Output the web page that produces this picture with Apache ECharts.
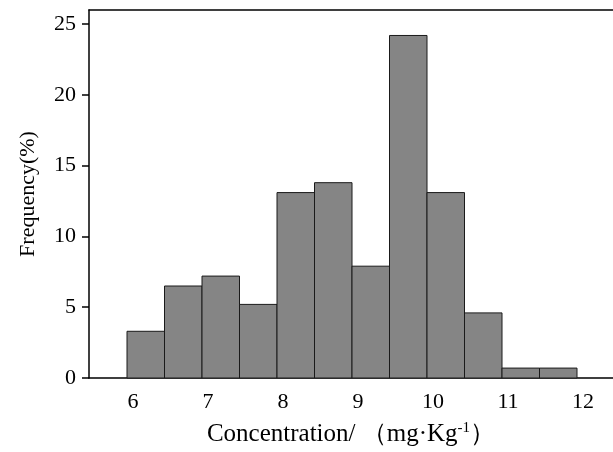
<!DOCTYPE html>
<html>
<head>
<meta charset="utf-8">
<script src="https://cdn.jsdelivr.net/npm/echarts@6/dist/echarts.min.js"></script>
<style>
html,body{margin:0;padding:0;background:#fff;}
#chart{width:613px;height:452px;}
</style>
</head>
<body>
<div id="chart"></div>
<script>
// Histogram bins (lower edge, upper edge) in mg/Kg and frequency in %
const binLower = [5.92, 6.42, 6.92, 7.42, 7.92, 8.42, 8.92, 9.42, 9.92, 10.42, 10.92, 11.42];
const binUpper = [6.42, 6.92, 7.42, 7.92, 8.42, 8.92, 9.42, 9.92, 10.42, 10.92, 11.42, 11.92];
const frequency = [3.3, 6.5, 7.2, 5.2, 13.1, 13.8, 7.9, 24.2, 13.1, 4.6, 0.7, 0.7];
const xTickValues = [6, 7, 8, 9, 10, 11, 12];
const yTickValues = [0, 5, 10, 15, 20, 25];

const data = binLower.map((lo, i) => [lo, binUpper[i], frequency[i]]);
const font = "'Times New Roman', 'Liberation Serif', serif";

const chart = echarts.init(document.getElementById('chart'), null, {renderer: 'canvas'});
chart.setOption({
  backgroundColor: '#ffffff',
  animation: false,
  grid: {left: 89, right: 0, top: 10, bottom: 70, containLabel: false},
  xAxis: [{
    type: 'value',
    min: 5.4133,
    max: 12.4,
    position: 'bottom',
    axisLine: {show: true, lineStyle: {color: '#000', width: 1.5}},
    axisTick: {show: false},
    splitLine: {show: false},
    axisLabel: {
      customValues: xTickValues,
      color: '#000', fontFamily: font, fontSize: 22, margin: 13
    },
    name: '{t|Concentration/ （mg·Kg}{s|-1}{t|）}',
    nameLocation: 'middle',
    nameGap: 43,
    nameTextStyle: {
      rich: {
        t: {fontFamily: font, fontSize: 25, color: '#000'},
        s: {fontFamily: font, fontSize: 15, color: '#000', verticalAlign: 'top', padding: [0, 0, 12, 0]}
      }
    }
  }, {
    type: 'value',
    min: 5.4133,
    max: 12.4,
    position: 'top',
    axisLine: {show: true, lineStyle: {color: '#000', width: 1.5}},
    axisTick: {show: false},
    axisLabel: {show: false},
    splitLine: {show: false}
  }],
  yAxis: {
    type: 'value',
    min: 0,
    max: 26,
    axisLine: {show: true, lineStyle: {color: '#000', width: 1.5}},
    axisTick: {show: true, customValues: yTickValues, length: 7, lineStyle: {color: '#000', width: 1.5}},
    splitLine: {show: false},
    axisLabel: {
      customValues: yTickValues,
      color: '#000', fontFamily: font, fontSize: 22, margin: 13
    },
    name: 'Frequency(%)',
    nameLocation: 'middle',
    nameGap: 50,
    nameTextStyle: {fontFamily: font, fontSize: 22, color: '#000'}
  },
  series: [{
    type: 'custom',
    xAxisIndex: 0,
    data: data,
    encode: {x: [0, 1], y: 2},
    renderItem: function (params, api) {
      const p0 = api.coord([api.value(0), api.value(2)]);
      const p1 = api.coord([api.value(1), 0]);
      return {
        type: 'rect',
        shape: {x: p0[0], y: p0[1], width: p1[0] - p0[0], height: p1[1] - p0[1]},
        style: {fill: '#858585', stroke: '#1a1a1a', lineWidth: 1}
      };
    }
  }]
});
</script>
</body>
</html>
